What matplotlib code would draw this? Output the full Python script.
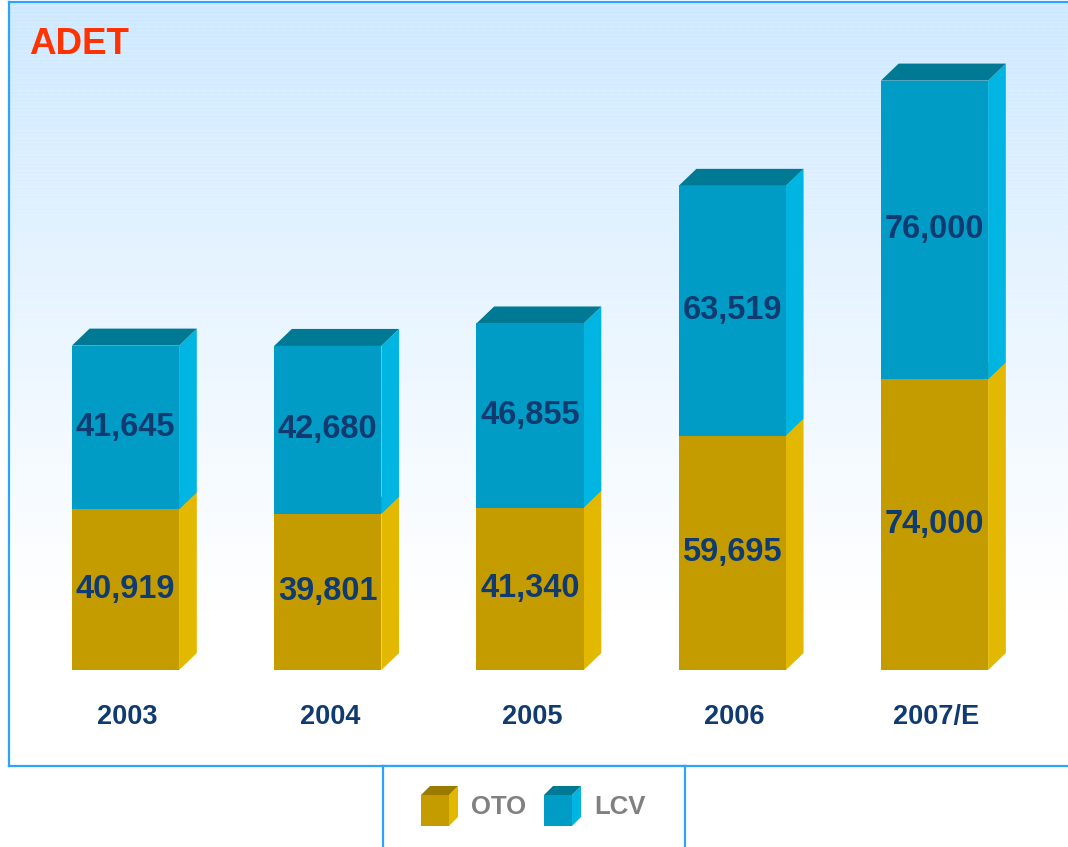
import matplotlib.pyplot as plt
import numpy as np
from matplotlib.patches import Polygon, Rectangle

plt.rcParams['font.family'] = ['Liberation Sans', 'DejaVu Sans']

years = ['2003', '2004', '2005', '2006', '2007/E']
oto = [40919, 39801, 41340, 59695, 74000]
lcv = [41645, 42680, 46855, 63519, 76000]

# colours: front, side, top
oto_col = ('#C49C00', '#E2B800', '#9A7A00')
lcv_col = ('#009CC5', '#00B5E2', '#007A94')
label_col = '#103B70'

fig = plt.figure(figsize=(10.68, 8.47), dpi=100)

x0, x1 = -0.576, 4.660
y0, y1 = -24.4, 170.0

# background panel
ax = fig.add_axes([9 / 1068, 81 / 847, 1059 / 1068, 764 / 847])
ax.set_xlim(x0, x1)
ax.set_ylim(y0, y1)

h, w = 764, 1059
yy = np.linspace(0, 1, h)[:, None]
fade = np.clip((0.8 - yy) / 0.8, 0, 1) ** 1.1
grid = np.ones((h, w))
grid[::4, :] *= 0.9
grid[:, ::4] *= 0.9
grid[1::8, :] *= 0.95
grid[:, 2::8] *= 0.95
tint = fade * grid
img = np.ones((h, w, 3))
top = np.array([0.80, 0.91, 1.0])
for c in range(3):
    img[:, :, c] = 1 - (1 - top[c]) * tint
ax.imshow(img, extent=[x0, x1, y0, y1], aspect='auto', zorder=0, interpolation='nearest')

for s in ['left', 'top', 'bottom']:
    ax.spines[s].set_color('#2EA2FF')
    ax.spines[s].set_linewidth(1.6)
ax.spines['right'].set_visible(False)
ax.set_xticks([])
ax.set_yticks([])

bw = 0.53
dx = 0.0876
dy = 4.33


def box(x, b, t, cols, z):
    xl, xr = x - bw / 2, x + bw / 2
    ax.add_patch(Polygon([(xr, b), (xr + dx, b + dy), (xr + dx, t + dy), (xr, t)],
                         closed=True, fc=cols[1], ec='none', zorder=z))
    ax.add_patch(Polygon([(xl, t), (xl + dx, t + dy), (xr + dx, t + dy), (xr, t)],
                         closed=True, fc=cols[2], ec='none', zorder=z))
    ax.add_patch(Rectangle((xl, b), bw, t - b, fc=cols[0], ec='none', zorder=z + 0.1))


for i, yr in enumerate(years):
    o = oto[i] / 1000
    l = lcv[i] / 1000
    box(i, 0, o, oto_col, 2)
    box(i, o, o + l, lcv_col, 3)
    ax.text(i, o / 2, f'{oto[i]:,}', ha='center', va='center', fontsize=23.5,
            fontweight='bold', color=label_col, zorder=5)
    ax.text(i, o + l / 2, f'{lcv[i]:,}', ha='center', va='center', fontsize=23.5,
            fontweight='bold', color=label_col, zorder=5)
    ax.text(i + 0.01, -12, yr, ha='center', va='center', fontsize=19.5,
            fontweight='bold', color=label_col, zorder=5)

ax.text(20 / 1059, 1 - 43 / 764, 'ADET', transform=ax.transAxes, ha='left', va='center',
        fontsize=26.5, fontweight='bold', color='#FF3300', zorder=5)

# legend box
lax = fig.add_axes([383 / 1068, 0, 302 / 1068, 81 / 847])
lax.set_xlim(383, 685)
lax.set_ylim(847, 766)
lax.set_xticks([])
lax.set_yticks([])
for s in ['left', 'right', 'top']:
    lax.spines[s].set_color('#2EA2FF')
    lax.spines[s].set_linewidth(1.6)
lax.spines['bottom'].set_visible(False)


def cube(x0, cols):
    fw, fh, d = 28, 31, 9
    yb, yt = 826, 795
    lax.add_patch(Polygon([(x0 + fw, yb), (x0 + fw + d, yb - d), (x0 + fw + d, yt - d), (x0 + fw, yt)],
                          closed=True, fc=cols[1], ec='none'))
    lax.add_patch(Polygon([(x0, yt), (x0 + d, yt - d), (x0 + fw + d, yt - d), (x0 + fw, yt)],
                          closed=True, fc=cols[2], ec='none'))
    lax.add_patch(Rectangle((x0, yt), fw, fh, fc=cols[0], ec='none'))


cube(421, oto_col)
cube(544, lcv_col)
lax.text(471, 807, 'OTO', ha='left', va='center', fontsize=18.5, fontweight='bold', color='#808080')
lax.text(594, 807, 'LCV', ha='left', va='center', fontsize=18.5, fontweight='bold', color='#808080')

fig.savefig('out.png', dpi=100)
